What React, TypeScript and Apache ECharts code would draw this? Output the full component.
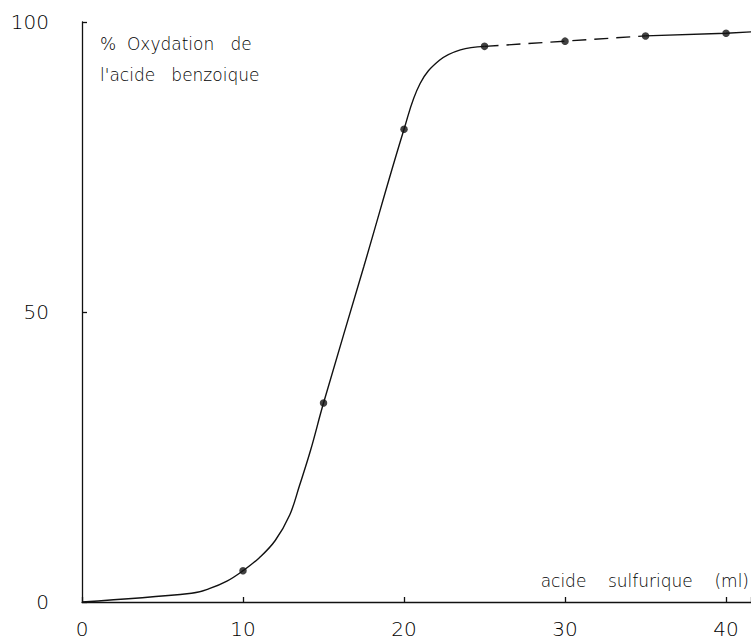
import React, { useEffect, useRef } from "react";
import * as echarts from "echarts";

// Solid fitted curve
const curveX = [0, 6.8, 7.9, 9, 10, 11, 12, 12.9, 13.5, 14.2, 15, 17.5, 20, 21, 22.2, 23.5, 25];
const curveY = [0, 1.5, 2.3, 3.6, 5.4, 7.6, 10.6, 15, 20, 26.2, 34.3, 57.8, 81.5, 89.4, 93.4, 95.2, 95.8];

// Dashed plateau segment and solid tail
const dashX = [25, 30, 35];
const dashY = [95.8, 96.7, 97.6];
const tailX = [35, 40, 41.6];
const tailY = [97.6, 98.05, 98.3];

// Measured points (ml H2SO4, % oxidation)
const pointX = [10, 15, 20, 25, 30, 35, 40];
const pointY = [5.4, 34.3, 81.5, 95.8, 96.7, 97.6, 98.05];

const yTicks = [0, 50, 100];
const xTicks = [0, 10, 20, 30, 40];

const titleLines = ["%  Oxydation   de", "l'acide   benzoique"];
const xName = "acide    sulfurique    (ml)";

const FONT = "DejaVu Sans";
const INK = "#111";

const zip = (xs: number[], ys: number[]) => xs.map((x, i) => [x, ys[i]]);

export default function App() {
  const ref = useRef<HTMLDivElement>(null);
  useEffect(() => {
    if (!ref.current) return;
    const chart = echarts.init(ref.current, undefined, { renderer: "svg" });
    const textStyle = {
      fontFamily: FONT,
      fontWeight: 200,
      fontSize: 17,
      fill: "#000",
      textVerticalAlign: "middle",
    };
    chart.setOption({
      animation: false,
      backgroundColor: "#fff",
      grid: { left: 82, right: 0, top: 22, bottom: 39, containLabel: false, outerBoundsMode: "none" },
      xAxis: {
        type: "value",
        min: 0,
        max: 41.55,
        interval: 10,
        axisLine: { show: true, lineStyle: { color: INK, width: 1.3 } },
        axisTick: { show: true, inside: true, length: 5, lineStyle: { color: INK, width: 1.3 } },
        splitLine: { show: false },
        axisLabel: {
          margin: 17,
          fontFamily: FONT,
          fontWeight: 200,
          fontSize: 20,
          lineHeight: 20,
          color: "#000",
          formatter: (v: number) => (xTicks.includes(v) ? String(v) : ""),
        },
      },
      yAxis: {
        type: "value",
        min: 0,
        max: 100,
        interval: 50,
        axisLine: { show: true, lineStyle: { color: INK, width: 1.3 } },
        axisTick: { show: true, inside: true, length: 5, lineStyle: { color: INK, width: 1.3 } },
        splitLine: { show: false },
        axisLabel: {
          margin: 33,
          fontFamily: FONT,
          fontWeight: 200,
          fontSize: 20,
          color: "#000",
          formatter: (v: number) => (yTicks.includes(v) ? String(v) : ""),
        },
      },
      graphic: [
        { type: "text", x: 100, y: 44, style: { ...textStyle, text: titleLines[0] } },
        { type: "text", x: 100, y: 75, style: { ...textStyle, text: titleLines[1] } },
        {
          type: "text",
          x: 749,
          y: 581,
          style: { ...textStyle, text: xName, textAlign: "right" },
        },
      ],
      series: [
        {
          type: "line",
          data: zip(curveX, curveY),
          smooth: 0.4,
          showSymbol: false,
          lineStyle: { color: INK, width: 1.4 },
          z: 2,
        },
        {
          type: "line",
          data: zip(dashX, dashY),
          showSymbol: false,
          lineStyle: { color: INK, width: 1.4, type: [14, 8] },
          z: 2,
        },
        {
          type: "line",
          data: zip(tailX, tailY),
          showSymbol: false,
          lineStyle: { color: INK, width: 1.4 },
          z: 2,
        },
        {
          type: "scatter",
          data: zip(pointX, pointY),
          symbol: "circle",
          symbolSize: 7.5,
          itemStyle: { color: INK },
          z: 3,
        },
      ],
    });
    return () => chart.dispose();
  }, []);
  return (
    <div
      ref={ref}
      style={{ position: "fixed", left: 0, top: 0, width: 751, height: 641, background: "#fff" }}
    />
  );
}
